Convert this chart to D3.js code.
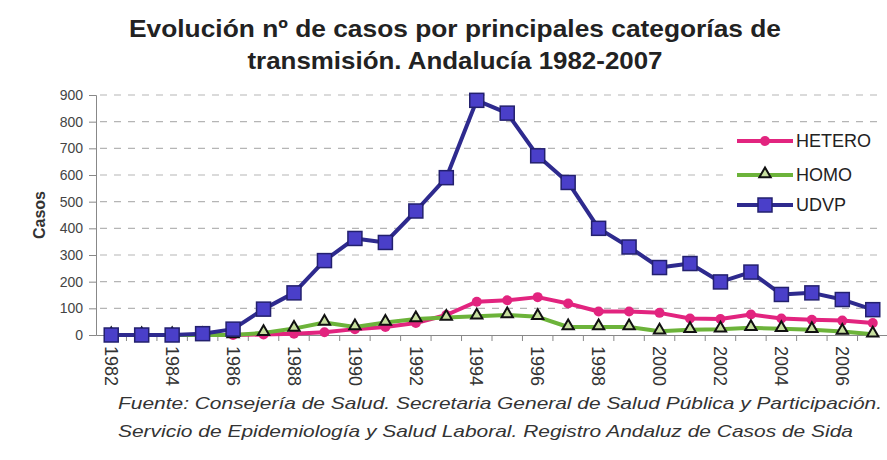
<!DOCTYPE html>
<html>
<head>
<meta charset="utf-8">
<script src="https://cdn.jsdelivr.net/npm/d3@7"></script>
<style>
  body { margin: 0; background: #fff; }
  text { font-family: Arial, "Liberation Sans", sans-serif; }
</style>
</head>
<body>
<div id="chart"></div>
<script>
// categories
var years = [1982, 1983, 1984, 1985, 1986, 1987, 1988, 1989, 1990, 1991, 1992, 1993, 1994,
             1995, 1996, 1997, 1998, 1999, 2000, 2001, 2002, 2003, 2004, 2005, 2006, 2007];

// series values
var hetero = [0, 0, 0, 0, 0, 2, 5, 10, 22, 30, 45, 75, 125, 130, 142, 118, 88, 88, 83, 62, 60, 77, 62, 57, 54, 45];
var homo   = [0, 0, 0, 0, 0, 8, 24, 47, 30, 47, 60, 66, 70, 75, 68, 30, 30, 30, 14, 20, 22, 27, 23, 20, 13, 3];
var udvp   = [0, 0, 0, 5, 22, 97, 158, 279, 362, 347, 465, 590, 880, 832, 672, 572, 400, 330, 253, 268, 199, 236, 152, 158, 133, 95];

// tick labels
var yTicks = [0, 100, 200, 300, 400, 500, 600, 700, 800, 900];
var xLabels = [1982, 1984, 1986, 1988, 1990, 1992, 1994, 1996, 1998, 2000, 2002, 2004, 2006];

var series = [
    { name: "HETERO", values: hetero, color: "#e2247f", marker: "circle" },
    { name: "HOMO", values: homo, color: "#6cb33a", marker: "triangle" },
    { name: "UDVP", values: udvp, color: "#2e2a8e", marker: "square" }
];

var width = 887, height = 460;
var svg = d3.select("#chart").append("svg")
    .attr("width", width)
    .attr("height", height);

var x = d3.scaleBand().domain(years).range([96, 888]);
var y = d3.scaleLinear().domain([0, 900]).range([335, 95]);
function cx(d) { return x(d) + x.bandwidth() / 2; }

// title
svg.append("text")
    .attr("x", 455).attr("y", 37)
    .attr("text-anchor", "middle")
    .attr("textLength", 652).attr("lengthAdjust", "spacingAndGlyphs")
    .style("font-size", "24px").style("font-weight", "bold").style("fill", "#222")
    .text("Evolución nº de casos por principales categorías de");
svg.append("text")
    .attr("x", 455).attr("y", 69)
    .attr("text-anchor", "middle")
    .attr("textLength", 415).attr("lengthAdjust", "spacingAndGlyphs")
    .style("font-size", "24px").style("font-weight", "bold").style("fill", "#222")
    .text("transmisión. Andalucía 1982-2007");

// gridlines
svg.append("g").selectAll("line")
    .data(yTicks.filter(function (d) { return d > 0; }))
    .enter().append("line")
    .attr("x1", 100).attr("x2", 882)
    .attr("y1", function (d) { return y(d); })
    .attr("y2", function (d) { return y(d); })
    .attr("stroke", "#b5b5b5")
    .attr("stroke-width", 1.2)
    .attr("stroke-dasharray", "7,7");

// y axis
var yAxis = svg.append("g")
    .attr("transform", "translate(96,0)")
    .call(d3.axisLeft(y).tickValues(yTicks).tickSize(7).tickPadding(6));
yAxis.select(".domain").attr("stroke", "#888");
yAxis.selectAll(".tick line").attr("stroke", "#888");
yAxis.selectAll("text").style("font-size", "14px").style("fill", "#444");

// x axis
var xAxis = svg.append("g")
    .attr("transform", "translate(0,335)")
    .call(d3.axisBottom(x).tickValues(xLabels).tickSize(0).tickPadding(0));
xAxis.select(".domain").attr("stroke", "#888");
xAxis.selectAll("text")
    .attr("transform", "translate(0,11) rotate(90)")
    .attr("text-anchor", "start")
    .attr("dy", "0.35em")
    .attr("y", 0).attr("x", 0)
    .style("font-size", "18px").style("fill", "#333");

// tick marks between categories
svg.append("g").selectAll("line")
    .data(years.slice(1))
    .enter().append("line")
    .attr("x1", function (d) { return x(d); })
    .attr("x2", function (d) { return x(d); })
    .attr("y1", 335).attr("y2", 341)
    .attr("stroke", "#888");

// casos label
svg.append("text")
    .attr("transform", "translate(45,215) rotate(-90)")
    .attr("text-anchor", "middle")
    .style("font-size", "16px").style("font-weight", "bold").style("fill", "#333")
    .text("Casos");

function drawMarker(g, s, px, py) {
    if (s.marker === "square") {
        g.append("rect")
            .attr("x", px - 7).attr("y", py - 7)
            .attr("width", 14).attr("height", 14)
            .attr("fill", "#4a3fc9").attr("stroke", "#23206e").attr("stroke-width", 1.5);
    } else if (s.marker === "triangle") {
        g.append("path")
            .attr("d", d3.symbol().type(d3.symbolTriangle).size(55)())
            .attr("transform", "translate(" + px + "," + (py - 1) + ")")
            .attr("fill", "#c8e0a0").attr("stroke", "#111").attr("stroke-width", 2);
    } else {
        g.append("circle")
            .attr("cx", px).attr("cy", py).attr("r", 5)
            .attr("fill", s.color);
    }
}

var line = d3.line()
    .x(function (d, i) { return cx(years[i]); })
    .y(function (d) { return y(d); });

series.forEach(function (s) {
    var g = svg.append("g");
    g.append("path")
        .datum(s.values)
        .attr("d", line)
        .attr("fill", "none")
        .attr("stroke", s.color)
        .attr("stroke-width", 4)
        .attr("stroke-linejoin", "round");
    s.values.forEach(function (v, i) {
        drawMarker(g, s, cx(years[i]), y(v));
    });
});

// legend (white box hides the gridlines behind it)
var legendY = [141, 175, 205];
svg.append("rect")
    .attr("x", 730).attr("y", 128)
    .attr("width", 157).attr("height", 92)
    .attr("fill", "#fff");
series.forEach(function (s, i) {
    var g = svg.append("g");
    g.append("line")
        .attr("x1", 737).attr("x2", 793)
        .attr("y1", legendY[i]).attr("y2", legendY[i])
        .attr("stroke", s.color).attr("stroke-width", 4);
    drawMarker(g, s, 765, legendY[i]);
    g.append("text")
        .attr("x", 796).attr("y", legendY[i])
        .attr("dy", "0.36em")
        .style("font-size", "18px").style("fill", "#222")
        .text(s.name);
});

// source note
svg.append("text")
    .attr("x", 118).attr("y", 409)
    .attr("textLength", 764).attr("lengthAdjust", "spacingAndGlyphs")
    .style("font-size", "17px").style("font-style", "italic").style("fill", "#333")
    .text("Fuente: Consejería de Salud. Secretaria  General de Salud Pública y Participación.");
svg.append("text")
    .attr("x", 118).attr("y", 437)
    .attr("textLength", 735).attr("lengthAdjust", "spacingAndGlyphs")
    .style("font-size", "17px").style("font-style", "italic").style("fill", "#333")
    .text("Servicio de Epidemiología y Salud Laboral. Registro Andaluz de Casos de Sida");
</script>
</body>
</html>
